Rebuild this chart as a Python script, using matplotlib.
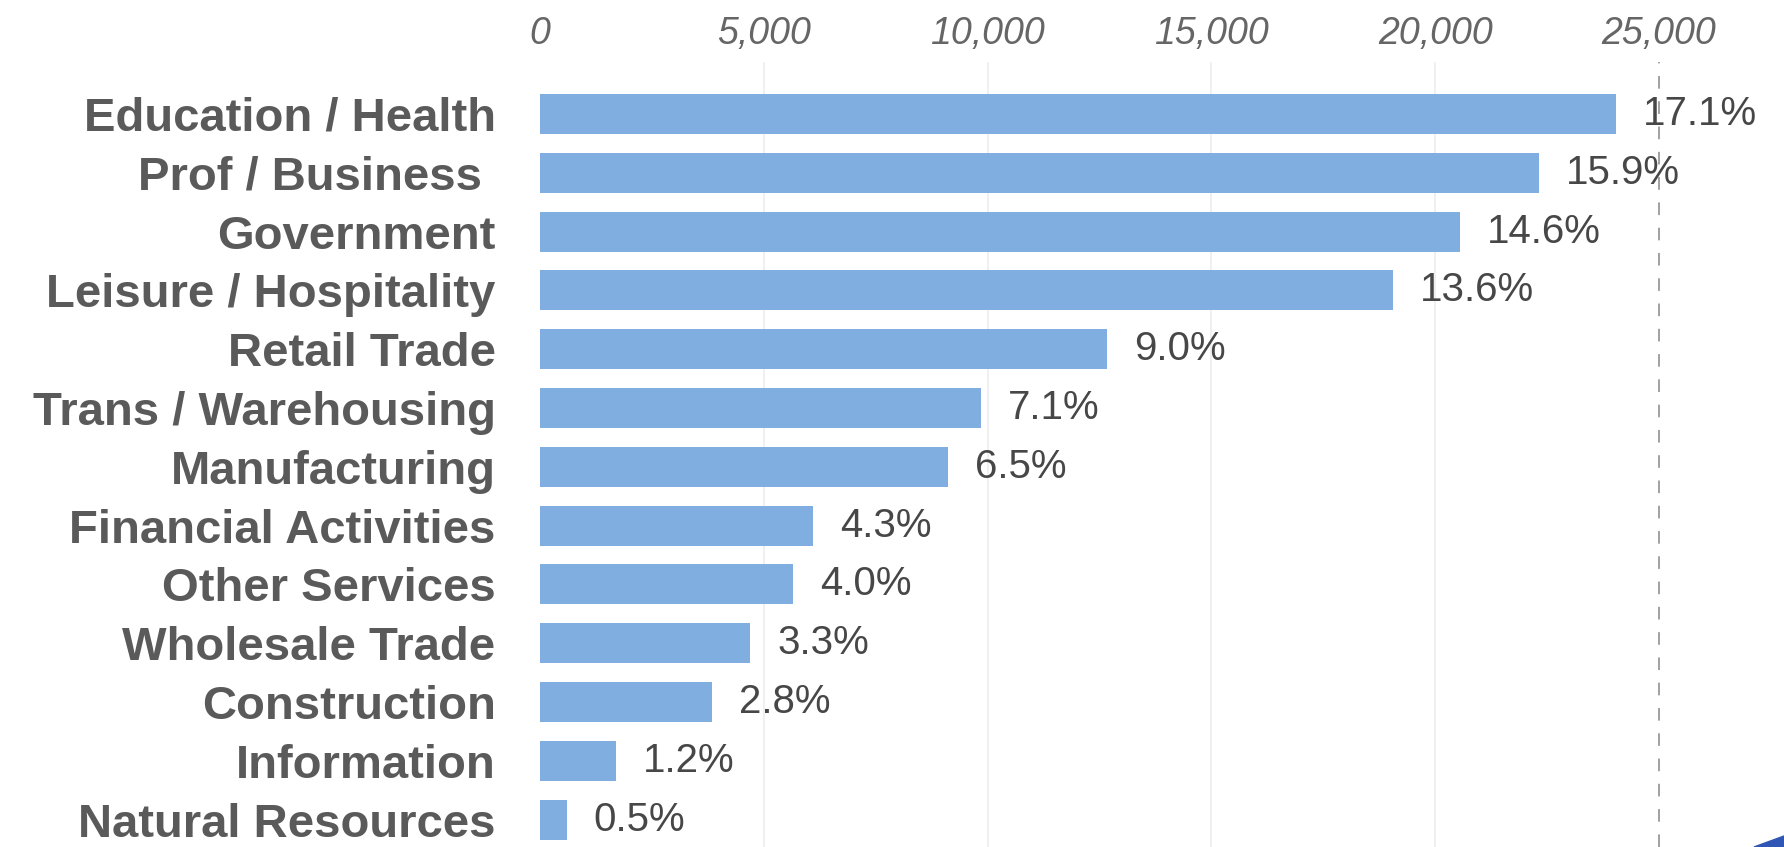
import matplotlib
matplotlib.use("Agg")
import matplotlib.pyplot as plt
from matplotlib.patches import Polygon

# employment by industry, with share of total
industries = [
    "Education / Health", "Prof / Business ", "Government",
    "Leisure / Hospitality", "Retail Trade", "Trans / Warehousing",
    "Manufacturing", "Financial Activities", "Other Services",
    "Wholesale Trade", "Construction", "Information", "Natural Resources",
]
jobs = [24040, 22320, 20550, 19060, 12670, 9850, 9110, 6110, 5650,
        4690, 3850, 1690, 595]
shares = ["17.1%", "15.9%", "14.6%", "13.6%", "9.0%", "7.1%", "6.5%",
          "4.3%", "4.0%", "3.3%", "2.8%", "1.2%", "0.5%"]
ticks = [0, 5000, 10000, 15000, 20000, 25000]
tick_labels = ["0", "5,000", "10,000", "15,000", "20,000", "25,000"]

W, H = 1784, 847
plt.rcParams["font.family"] = ["Liberation Sans", "DejaVu Sans"]

fig = plt.figure(figsize=(W / 100, H / 100), dpi=100)
fig.patch.set_facecolor("white")

# axes placed in pixels: bars start at x=540, top row centred at y=114
x0, top = 540, 62
ax = fig.add_axes([x0 / W, 0, 1 - x0 / W, (H - top) / H])
px_per_unit = 44.76 / 1000
row = 58.8
first = 114.0
ax.set_xlim(0, (W - x0) / px_per_unit)
ax.set_ylim((H - first) / row, (top - first) / row)

ypos = list(range(len(industries)))
ax.barh(ypos, jobs, height=0.68, color="#80aee0", zorder=2)

for y, v, s in zip(ypos, jobs, shares):
    ax.annotate(s, (v, y), xytext=(19.5, 0), textcoords="offset points",
                va="center", ha="left", fontsize=29, color="#474747", zorder=3)

# faint grid, dashed at the last tick
for t in ticks[1:-1]:
    ax.axvline(t, color="#ececec", lw=1.1, zorder=1)
ax.axvline(ticks[-1], color="#9a9a9a", lw=1.3, ls=(0, (7, 7)), zorder=1)

ax.set_yticks(ypos)
ax.set_yticklabels(industries, fontsize=34, fontweight="bold", color="#5a5a5a")
ax.set_xticks(ticks)
ax.set_xticklabels(tick_labels, fontsize=27, fontstyle="italic", color="#666666")
ax.xaxis.tick_top()
ax.tick_params(axis="x", length=0, pad=7)
ax.tick_params(axis="y", length=0, pad=32)
for sp in ax.spines.values():
    sp.set_visible(False)
ax.set_facecolor("none")

# blue corner mark
fig.patches.append(Polygon([[1754 / W, 1 - 847 / H], [1784 / W, 1 - 836 / H],
                            [1784 / W, 1 - 847 / H]], closed=True,
                           transform=fig.transFigure, color="#2f55b5"))

fig.savefig("out.png", dpi=100)
